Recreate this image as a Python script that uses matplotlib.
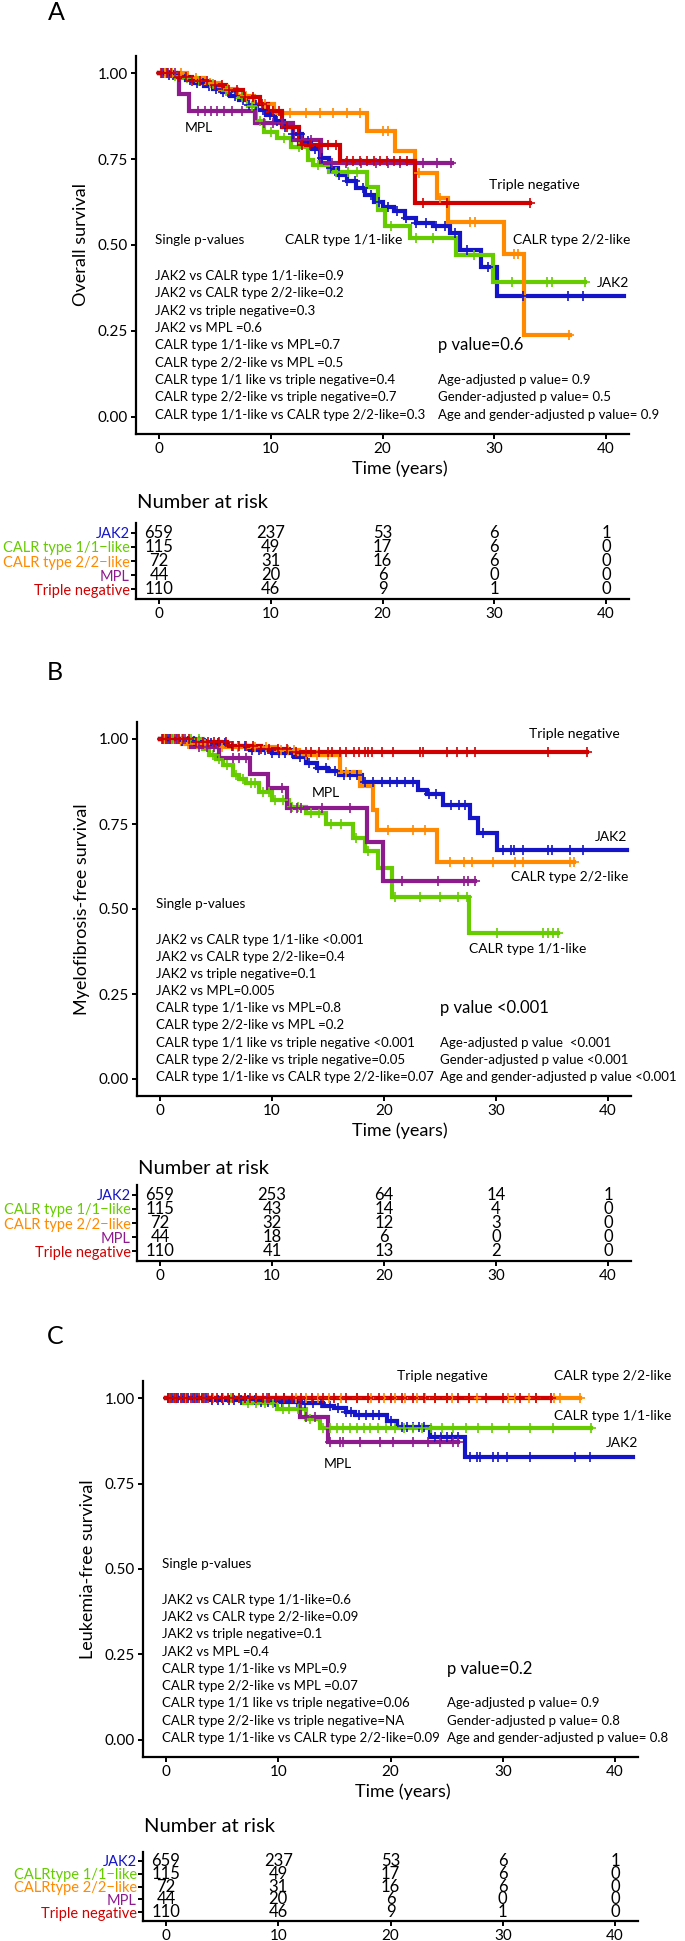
"""Kaplan-Meier panels A-C (overall, myelofibrosis-free, leukemia-free survival) by driver mutation."""
import numpy as np
import matplotlib
matplotlib.use("Agg")
import matplotlib.pyplot as plt

plt.rcParams["font.family"] = ["Lato", "DejaVu Sans"]

GROUPS = ["JAK2", "CALR1", "CALR2", "MPL", "TN"]
COLORS = {"JAK2": "#1414C8", "CALR1": "#66CC00", "CALR2": "#FF8A00",
          "MPL": "#8E1B8E", "TN": "#D00000"}

# ---------------- panel A: overall survival ----------------
A_JAK2_T = [0, 0.8, 1.6, 2.4, 3.2, 4.0, 4.8, 5.6, 6.4, 7.2, 8.0, 8.8, 9.6, 10.4, 11.2, 12.0, 12.8,
            13.6, 14.4, 15.2, 16.0, 16.8, 17.6, 18.4, 19.2, 20.0, 21.0, 22.0, 23.0, 24.5, 26.0, 26.9, 28.8, 30.2]
A_JAK2_S = [1.0, 0.995, 0.988, 0.980, 0.972, 0.963, 0.955, 0.945, 0.935, 0.922, 0.908, 0.893, 0.878, 0.860,
            0.842, 0.823, 0.802, 0.780, 0.752, 0.725, 0.705, 0.685, 0.665, 0.645, 0.625, 0.610, 0.598, 0.580,
            0.565, 0.556, 0.535, 0.485, 0.436, 0.352]
A_JAK2_END = 41.6
A_JAK2_C = [0.4, 0.9, 1.3, 1.8, 2.3, 2.8, 3.4, 3.9, 4.5, 5.1, 5.7, 6.2, 6.8, 7.5, 8.1, 8.7, 9.3, 9.9, 10.6,
            11.3, 12.0, 12.6, 13.3, 14.0, 14.6, 15.4, 16.1, 16.8, 17.5, 18.3, 19.0, 19.7, 20.5, 21.3, 22.1,
            23.0, 23.9, 24.8, 25.6, 26.5, 27.6, 29.4, 32.6, 36.6, 37.9]

A_CALR1_T = [0, 1.0, 2.0, 3.0, 4.0, 5.0, 6.0, 7.0, 8.0, 8.7, 9.4, 10.6, 11.8, 13.3, 13.8, 15.2, 18.6,
             19.6, 20.2, 22.5, 26.6, 29.9]
A_CALR1_S = [1.0, 0.993, 0.985, 0.977, 0.968, 0.958, 0.947, 0.932, 0.905, 0.86, 0.83, 0.81, 0.785, 0.747,
             0.733, 0.712, 0.669, 0.602, 0.555, 0.52, 0.471, 0.392]
A_CALR1_END = 38.1
A_CALR1_C = [0.6, 1.4, 2.5, 3.6, 4.8, 6.0, 7.4, 8.3, 9.0, 10.0, 11.2, 12.5, 14.2, 15.8, 16.9, 17.7, 20.8,
             23.0, 24.5, 28.2, 31.6, 34.7, 35.2, 38.1]

A_CALR2_T = [0, 2.5, 4.0, 5.5, 7.0, 8.5, 10.3, 18.6, 21.1, 22.9, 24.9, 25.9, 30.9, 32.7]
A_CALR2_S = [1.0, 0.985, 0.97, 0.955, 0.935, 0.91, 0.884, 0.831, 0.773, 0.709, 0.637, 0.567, 0.474, 0.238]
A_CALR2_END = 36.8
A_CALR2_C = [0.5, 1.2, 2.0, 3.3, 4.6, 6.2, 7.8, 9.5, 11.7, 13.2, 14.4, 15.6, 16.8, 18.0, 20.0, 20.5, 23.3,
             25.1, 27.8, 28.3, 31.8, 32.1, 36.7]

A_MPL_T = [0, 1.8, 2.7, 8.6, 12.0, 14.5]
A_MPL_S = [1.0, 0.94, 0.89, 0.855, 0.805, 0.738]
A_MPL_END = 26.2
A_MPL_C = [0.3, 0.8, 1.4, 3.5, 4.1, 4.7, 5.2, 5.8, 6.5, 7.4, 9.4, 10.2, 11.0, 12.8, 13.6, 15.5, 16.7, 18.1,
           19.4, 20.5, 21.6, 23.6, 24.9, 26.1]

A_TN_T = [0, 1.5, 3.0, 4.5, 6.0, 7.5, 9.0, 9.8, 11.0, 12.5, 16.2, 22.9]
A_TN_S = [1.0, 0.99, 0.978, 0.965, 0.95, 0.93, 0.91, 0.89, 0.843, 0.79, 0.745, 0.622]
A_TN_END = 33.2
A_TN_C = [0.2, 0.7, 1.1, 1.8, 2.4, 3.0, 3.7, 4.3, 5.0, 5.6, 6.3, 7.0, 7.7, 8.4, 9.2, 10.2, 10.7, 11.5, 12.8,
          13.5, 14.3, 15.1, 15.8, 16.8, 17.4, 18.0, 18.6, 19.2, 19.8, 20.4, 21.0, 21.6, 22.2, 23.6, 25.8, 33.2]

# ---------------- panel B: myelofibrosis-free survival ----------------
B_JAK2_T = [0, 2, 4, 6, 8, 10, 12, 13, 14, 15, 16, 18, 23, 23.8, 25.3, 27.7, 28.4, 30.1]
B_JAK2_S = [1.0, 0.995, 0.988, 0.978, 0.968, 0.958, 0.946, 0.93, 0.915, 0.905, 0.894, 0.874, 0.85, 0.838,
            0.806, 0.767, 0.724, 0.673]
B_JAK2_END = 41.7
B_JAK2_C = [0.3, 0.7, 1.1, 1.5, 2.0, 2.5, 3.0, 3.5, 4.0, 4.6, 5.2, 5.8, 6.4, 7.0, 7.6, 8.2, 8.8, 9.4, 10.0,
            10.6, 11.2, 11.8, 12.5, 13.3, 14.1, 14.8, 15.6, 16.4, 17.0, 17.6, 18.3, 19.0, 19.8, 20.5, 21.2,
            21.9, 22.6, 24.0, 24.6, 26.0, 26.7, 27.2, 28.8, 30.6, 31.3, 31.6, 32.4, 34.6, 35.0, 36.6, 37.8]

B_CALR1_T = [0, 3.8, 4.4, 5.0, 5.6, 6.5, 7.1, 7.7, 8.8, 10.0, 11.5, 13.0, 14.8, 17.2, 18.3, 19.5, 20.7, 27.6]
B_CALR1_S = [1.0, 0.97, 0.953, 0.94, 0.924, 0.894, 0.882, 0.87, 0.845, 0.82, 0.80, 0.782, 0.75, 0.71,
             0.672, 0.62, 0.535, 0.43]
B_CALR1_END = 35.5
B_CALR1_C = [0.5, 1.2, 2.0, 2.8, 3.5, 4.7, 5.3, 6.0, 6.8, 7.4, 8.1, 8.5, 9.2, 9.7, 10.3, 11.0, 11.8, 12.3,
             13.5, 14.2, 15.3, 16.2, 17.5, 18.6, 21.0, 23.2, 25.0, 26.6, 27.4, 30.1, 34.2, 34.6, 35.1, 35.5]

B_CALR2_T = [0, 2.0, 4.5, 10.4, 12.4, 16.1, 17.9, 19.0, 19.4, 24.7]
B_CALR2_S = [1.0, 0.985, 0.976, 0.968, 0.953, 0.903, 0.862, 0.79, 0.732, 0.638]
B_CALR2_END = 37.0
B_CALR2_C = [0.4, 1.0, 1.6, 2.5, 3.3, 4.0, 5.5, 7.0, 8.5, 9.5, 10.8, 11.4, 12.0, 13.0, 14.0, 15.0, 16.6,
             20.4, 22.6, 23.7, 25.9, 27.1, 27.9, 29.7, 31.7, 32.4, 36.6, 37.0]

B_MPL_T = [0, 2.8, 5.3, 8.0, 9.6, 11.3, 18.5, 19.9]
B_MPL_S = [1.0, 0.976, 0.944, 0.897, 0.855, 0.797, 0.697, 0.582]
B_MPL_END = 28.1
B_MPL_C = [0.3, 0.9, 1.5, 2.2, 3.5, 4.2, 4.8, 6.5, 7.1, 7.7, 10.9, 11.7, 12.2, 12.6, 14.5, 17.0, 21.6,
           24.8, 27.1, 27.5, 28.1]

B_TN_T = [0, 3.0, 6.0, 9.0, 11.5]
B_TN_S = [1.0, 0.99, 0.98, 0.97, 0.962]
B_TN_END = 38.1
B_TN_C = [0.2, 0.5, 0.9, 1.3, 1.7, 2.1, 2.6, 3.2, 3.8, 4.3, 4.8, 5.3, 5.9, 6.5, 7.1, 7.7, 8.3, 9.0, 9.7,
          10.5, 11.3, 12.1, 13.0, 13.5, 14.2, 15.0, 15.4, 16.1, 16.6, 17.3, 17.8, 18.3, 18.6, 18.9, 19.8,
          20.8, 23.2, 23.5, 25.6, 26.5, 27.4, 28.1, 34.6, 38.1]

# ---------------- panel C: leukemia-free survival ----------------
C_JAK2_T = [0, 4, 8, 12, 14, 15, 16, 16.8, 19.7, 20.6, 23.5, 26.6]
C_JAK2_S = [1.0, 0.995, 0.99, 0.985, 0.978, 0.97, 0.96, 0.95, 0.932, 0.915, 0.886, 0.827]
C_JAK2_END = 41.6
C_JAK2_C = [0.2, 0.5, 0.8, 1.1, 1.4, 1.7, 2.0, 2.4, 2.8, 3.2, 3.6, 4.1, 4.6, 5.1, 5.6, 6.1, 6.7, 7.3, 7.9,
            8.5, 9.1, 9.7, 10.3, 11.0, 11.7, 12.4, 13.1, 13.8, 14.6, 15.3, 16.0, 16.5, 17.2, 17.8, 18.4,
            19.0, 20.0, 21.0, 21.5, 22.0, 22.5, 23.0, 24.0, 24.5, 25.0, 25.5, 26.0, 27.1, 27.7, 28.0, 29.1,
            29.6, 30.4, 32.4, 36.4, 37.8]

C_CALR1_T = [0, 6.8, 9.9, 12.5, 13.7]
C_CALR1_S = [1.0, 0.985, 0.968, 0.94, 0.912]
C_CALR1_END = 37.9
C_CALR1_C = [0.4, 1.0, 1.7, 2.5, 3.3, 4.2, 5.0, 5.8, 6.5, 7.3, 8.0, 8.8, 9.5, 10.4, 11.0, 11.8, 12.8,
             14.0, 14.6, 15.2, 15.8, 16.4, 17.0, 17.6, 18.2, 18.9, 19.6, 20.4, 21.2, 22.0, 22.8, 23.6, 24.6,
             25.6, 26.7, 27.8, 29.0, 30.6, 32.4, 34.5, 37.9]

C_CALR2_T = [0]
C_CALR2_S = [1.0]
C_CALR2_END = 36.9
C_CALR2_C = [0.3, 0.8, 1.3, 1.9, 2.6, 3.4, 4.2, 5.1, 6.0, 7.0, 8.0, 9.2, 10.5, 11.6, 12.5, 13.5, 14.5,
             15.6, 17.0, 18.3, 19.4, 20.4, 21.3, 22.4, 23.1, 24.0, 25.0, 25.5, 27.0, 27.7, 30.5, 31.1, 32.3,
             33.0, 34.6, 35.1, 36.9]

C_MPL_T = [0, 11.9, 14.4]
C_MPL_S = [1.0, 0.944, 0.871]
C_MPL_END = 26.0
C_MPL_C = [0.3, 0.9, 1.6, 2.6, 3.5, 5.0, 7.0, 9.0, 10.5, 12.5, 13.3, 14.6, 15.5, 15.8, 17.3, 19.1, 20.2,
           22.0, 23.3, 24.4, 25.6, 26.0]

C_TN_T = [0]
C_TN_S = [1.0]
C_TN_END = 34.3
C_TN_C = [0.2, 0.4, 0.7, 1.0, 1.3, 1.6, 1.9, 2.2, 2.5, 2.9, 3.3, 3.7, 4.1, 4.5, 5.0, 5.5, 6.0, 6.5, 7.0,
          7.5, 8.0, 8.6, 9.2, 9.8, 10.5, 11.2, 12.0, 13.0, 14.0, 15.0, 16.0, 17.0, 18.0, 19.0, 20.0, 21.0,
          22.0, 23.0, 24.0, 25.0, 26.0, 27.0, 28.5, 30.0, 31.5, 33.0, 34.3]

# ---------------- numbers at risk ----------------
RISK_TIMES = [0, 10, 20, 30, 40]
A_RISK = {"JAK2": [659, 237, 53, 6, 1], "CALR1": [115, 49, 17, 6, 0], "CALR2": [72, 31, 16, 6, 0],
          "MPL": [44, 20, 6, 0, 0], "TN": [110, 46, 9, 1, 0]}
B_RISK = {"JAK2": [659, 253, 64, 14, 1], "CALR1": [115, 43, 14, 4, 0], "CALR2": [72, 32, 12, 3, 0],
          "MPL": [44, 18, 6, 0, 0], "TN": [110, 41, 13, 2, 0]}
C_RISK = A_RISK
AB_ROW_NAMES = ["JAK2", "CALR type 1/1\u2212like", "CALR type 2/2\u2212like", "MPL", "Triple negative"]
C_ROW_NAMES = ["JAK2", "CALRtype 1/1\u2212like", "CALRtype 2/2\u2212like", "MPL", "Triple negative"]

# ---------------- annotation text ----------------
A_PAIRS = ["JAK2 vs CALR type 1/1-like=0.9", "JAK2 vs CALR type 2/2-like=0.2", "JAK2 vs triple negative=0.3",
           "JAK2 vs MPL =0.6", "CALR type 1/1-like vs MPL=0.7", "CALR type 2/2-like vs MPL =0.5",
           "CALR type 1/1 like vs triple negative=0.4", "CALR type 2/2-like vs triple negative=0.7",
           "CALR type 1/1-like vs CALR type 2/2-like=0.3"]
B_PAIRS = ["JAK2 vs CALR type 1/1-like <0.001", "JAK2 vs CALR type 2/2-like=0.4", "JAK2 vs triple negative=0.1",
           "JAK2 vs MPL=0.005", "CALR type 1/1-like vs MPL=0.8", "CALR type 2/2-like vs MPL =0.2",
           "CALR type 1/1 like vs triple negative <0.001", "CALR type 2/2-like vs triple negative=0.05",
           "CALR type 1/1-like vs CALR type 2/2-like=0.07"]
C_PAIRS = ["JAK2 vs CALR type 1/1-like=0.6", "JAK2 vs CALR type 2/2-like=0.09", "JAK2 vs triple negative=0.1",
           "JAK2 vs MPL =0.4", "CALR type 1/1-like vs MPL=0.9", "CALR type 2/2-like vs MPL =0.07",
           "CALR type 1/1 like vs triple negative=0.06", "CALR type 2/2-like vs triple negative=NA",
           "CALR type 1/1-like vs CALR type 2/2-like=0.09"]
A_PVAL = "p value=0.6"
B_PVAL = "p value <0.001"
C_PVAL = "p value=0.2"
A_ADJ = ["Age-adjusted p value= 0.9", "Gender-adjusted p value= 0.5", "Age and gender-adjusted p value= 0.9"]
B_ADJ = ["Age-adjusted p value  <0.001", "Gender-adjusted p value <0.001", "Age and gender-adjusted p value <0.001"]
C_ADJ = ["Age-adjusted p value= 0.9", "Gender-adjusted p value= 0.8", "Age and gender-adjusted p value= 0.8"]

A_LABELS = [("MPL", 3.6, 0.84), ("CALR type 1/1-like", 16.5, 0.515), ("Triple negative", 33.6, 0.674),
            ("CALR type 2/2-like", 36.9, 0.515), ("JAK2", 40.6, 0.39)]
B_LABELS = [("Triple negative", 37.0, 1.015), ("MPL", 14.8, 0.841), ("JAK2", 40.3, 0.712),
            ("CALR type 2/2-like", 36.6, 0.594), ("CALR type 1/1-like", 32.8, 0.382)]
C_LABELS = [("Triple negative", 24.6, 1.064), ("CALR type 2/2-like", 39.8, 1.064),
            ("CALR type 1/1-like", 39.8, 0.947), ("JAK2", 40.6, 0.868), ("MPL", 15.3, 0.807)]

W, H = 685, 1941


def box(l, t, r, b):
    return [l / W, 1 - b / H, (r - l) / W, (b - t) / H]


def style_axis(ax):
    for s in ("top", "right"):
        ax.spines[s].set_visible(False)
    for s in ("left", "bottom"):
        ax.spines[s].set_linewidth(1.6)
    ax.tick_params(length=3.5, width=1.4, labelsize=11, pad=2.5)


def km_panel(ax, data, pairs, pval, adj, labels, ylabel, xlab_x):
    for g in GROUPS:
        t, s, end, cens = data[g]
        t = np.asarray(t, float)
        s = np.asarray(s, float)
        ax.step(np.append(t, end), np.append(s, s[-1]), where="post", color=COLORS[g],
                lw=3.0, solid_joinstyle="miter", zorder=2)
        c = np.asarray(cens, float)
        idx = np.searchsorted(t, c, side="right") - 1
        ax.plot(c, s[idx], ls="none", marker="+", ms=7, mew=1.2, color=COLORS[g], zorder=3)
    ax.set_xlim(-2.05, 42.05)
    ax.set_ylim(-0.05, 1.05)
    ax.set_xticks([0, 10, 20, 30, 40])
    ax.set_yticks([0, 0.25, 0.5, 0.75, 1.0])
    ax.set_yticklabels(["0.00", "0.25", "0.50", "0.75", "1.00"])
    style_axis(ax)
    ax.text(-0.35, 0.514, "Single p-values", fontsize=9.7, ha="left", va="center")
    rows = [0.41 - 0.0505 * i for i in range(9)]
    for y, txt in zip(rows, pairs):
        ax.text(-0.35, y, txt, fontsize=9.5, ha="left", va="center")
    ax.text(25.0, rows[4], pval, fontsize=12, ha="left", va="center")
    for y, txt in zip(rows[6:], adj):
        ax.text(25.0, y, txt, fontsize=9.5, ha="left", va="center", clip_on=False)
    for txt, x, y in labels:
        ax.text(x, y, txt, fontsize=10, ha="center", va="center", clip_on=False)
    ax.text(-0.112, 0.5, ylabel, transform=ax.transAxes, rotation=90, fontsize=13,
            ha="center", va="center")
    ax.text(xlab_x, -0.092, "Time (years)", transform=ax.transAxes, fontsize=13,
            ha="center", va="center")


def risk_table(ax, risk, names):
    for i, g in enumerate(GROUPS):
        for x, n in zip(RISK_TIMES, risk[g]):
            ax.text(x, 5 - i, str(n), fontsize=12, ha="center", va="center")
    ax.set_xlim(-2.05, 42.05)
    ax.set_ylim(0.3, 5.7)
    ax.set_xticks(RISK_TIMES)
    ax.set_yticks([5, 4, 3, 2, 1])
    ax.set_yticklabels(names)
    for lab, g in zip(ax.get_yticklabels(), GROUPS):
        lab.set_color(COLORS[g])
    style_axis(ax)
    ax.tick_params(axis="y", pad=1, labelsize=10.5)


def panel_data(prefix):
    g = globals()
    return {k: (g[f"{prefix}_{k}_T"], g[f"{prefix}_{k}_S"], g[f"{prefix}_{k}_END"], g[f"{prefix}_{k}_C"])
            for k in GROUPS}


fig = plt.figure(figsize=(W / 100, H / 100), dpi=100)

axA = fig.add_axes(box(136, 56, 629, 434))
km_panel(axA, panel_data("A"), A_PAIRS, A_PVAL, A_ADJ, A_LABELS, "Overall survival", 0.535)
rA = fig.add_axes(box(136, 523, 629, 599))
risk_table(rA, A_RISK, AB_ROW_NAMES)

axB = fig.add_axes(box(137, 722, 631, 1096))
km_panel(axB, panel_data("B"), B_PAIRS, B_PVAL, B_ADJ, B_LABELS, "Myelofibrosis-free survival", 0.532)
rB = fig.add_axes(box(137, 1185, 631, 1261))
risk_table(rB, B_RISK, AB_ROW_NAMES)

axC = fig.add_axes(box(143, 1381, 638, 1757))
km_panel(axC, panel_data("C"), C_PAIRS, C_PVAL, C_ADJ, C_LABELS, "Leukemia-free survival", 0.525)
rC = fig.add_axes(box(143, 1852, 638, 1921))
risk_table(rC, C_RISK, C_ROW_NAMES)

for letter, x, y in [("A", 56, 12), ("B", 55, 672), ("C", 55, 1337)]:
    fig.text(x / W, 1 - y / H, letter, fontsize=18, ha="center", va="center")
for x, y in [(137, 503), (138, 1168), (144, 1827)]:
    fig.text(x / W, 1 - y / H, "Number at risk", fontsize=14.5, ha="left", va="center")

fig.savefig("out.png", dpi=100)
